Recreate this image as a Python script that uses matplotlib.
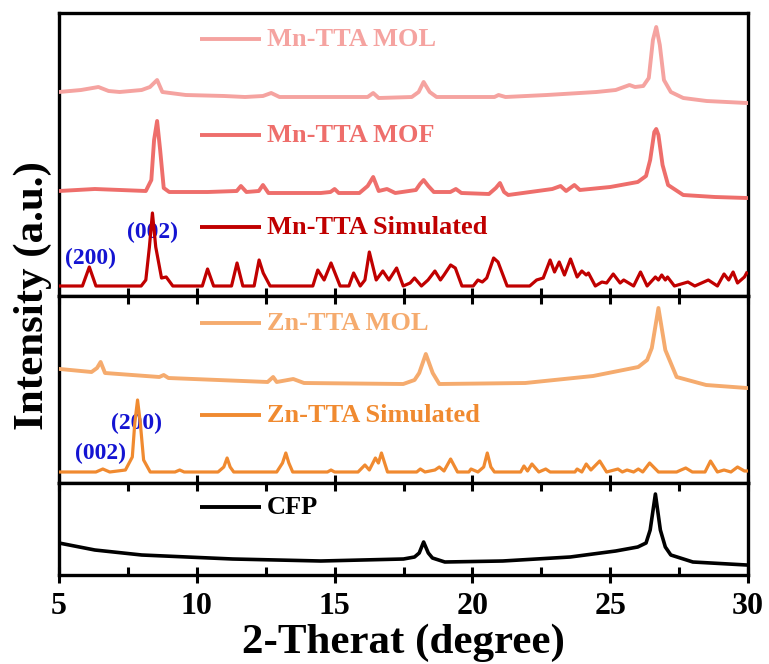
import matplotlib
matplotlib.use('Agg')
import matplotlib.pyplot as plt
from matplotlib.ticker import MultipleLocator

plt.rcParams['font.family'] = ['Liberation Serif', 'DejaVu Serif']
plt.rcParams['font.weight'] = 'bold'

# ---- data (2theta in degree, intensity in a.u.) ----
mn_mol_x = [5.0, 5.8, 6.43, 6.8, 7.2, 8.0, 8.3, 8.56, 8.75, 9.6, 11.0, 11.75, 12.4, 12.7, 13.0,
            14.5, 16.2, 16.4, 16.6, 17.8, 18.05, 18.23, 18.45, 18.7, 20.8, 20.95, 21.2, 22.7,
            24.5, 25.2, 25.6, 25.7, 25.9, 26.2, 26.4, 26.55, 26.67, 26.8, 26.95, 27.2, 27.65,
            28.5, 29.95]
mn_mol_y = [204, 206, 209, 205, 204, 206, 209, 216, 204, 201, 200, 199, 200, 203, 199,
            199, 199, 203, 198, 199, 204, 214, 204, 199, 199, 201, 199, 201,
            204, 206, 210, 211, 209, 210, 218, 256, 269, 251, 216, 204, 198,
            195, 193]

mn_mof_x = [5.0, 6.3, 8.15, 8.35, 8.45, 8.56, 8.67, 8.8, 9.0, 10.4, 11.45, 11.6, 11.8, 12.25,
            12.4, 12.6, 14.5, 14.85, 15.0, 15.15, 15.9, 16.2, 16.4, 16.6, 16.9, 17.2, 17.95,
            18.1, 18.23, 18.4, 18.6, 19.2, 19.4, 19.6, 20.6, 20.85, 21.0, 21.15, 21.3, 22.9,
            23.2, 23.4, 23.7, 23.9, 25.0, 26.0, 26.3, 26.45, 26.6, 26.67, 26.75, 26.9, 27.1,
            27.65, 28.8, 29.95]
mn_mof_y = [105, 107, 105, 116, 156, 175, 146, 108, 104, 104, 105, 110, 104, 105,
            111, 103, 103, 104, 107, 103, 103, 110, 119, 105, 107, 103, 106,
            112, 116, 110, 104, 104, 107, 103, 102, 108, 113, 104, 101, 107,
            110, 105, 111, 106, 109, 114, 120, 136, 164, 167, 161, 131, 111,
            101, 99, 98]

mn_sim_x = [5.0, 5.85, 6.10, 6.34, 7.98, 8.15, 8.28, 8.39, 8.51, 8.72, 8.89, 9.13, 10.2, 10.39,
            10.61, 11.26, 11.46, 11.67, 12.08, 12.26, 12.41, 12.66, 14.21, 14.39, 14.62, 14.87,
            15.2, 15.52, 15.69, 15.93, 16.1, 16.26, 16.51, 16.75, 16.97, 17.25, 17.49, 17.74,
            17.9, 18.15, 18.39, 18.64, 18.84, 18.97, 19.21, 19.38, 19.62, 20.03, 20.2, 20.36,
            20.52, 20.77, 20.93, 21.26, 22.08, 22.33, 22.57, 22.82, 22.98, 23.15, 23.34, 23.56,
            23.8, 23.97, 24.13, 24.21, 24.46, 24.7, 24.87, 25.11, 25.36, 25.49, 25.85, 26.1,
            26.34, 26.64, 26.75, 26.87, 27.0, 27.08, 27.33, 27.82, 28.07, 28.56, 28.89, 29.13,
            29.3, 29.46, 29.62, 29.87, 29.95]
mn_sim_y = [10, 10, 29, 10, 10, 16, 49, 83, 49, 18, 19, 10, 10, 27,
            10, 10, 33, 10, 10, 36, 23, 10, 10, 26, 16, 33,
            10, 10, 23, 10, 16, 44, 16, 25, 16, 28, 10, 13,
            18, 10, 16, 25, 16, 21, 31, 28, 10, 10, 16, 14,
            18, 38, 34, 10, 10, 16, 18, 36, 24, 34, 21, 37,
            19, 25, 21, 23, 10, 14, 13, 22, 13, 16, 10, 24,
            10, 19, 16, 21, 16, 19, 10, 14, 10, 16, 10, 22,
            16, 24, 13, 19, 23]

zn_mol_x = [5.03, 6.18, 6.38, 6.51, 6.67, 8.64, 8.8, 8.97, 12.57, 12.77, 12.9, 13.5, 13.89,
            17.49, 17.9, 18.07, 18.31, 18.56, 18.8, 21.92, 24.38, 26.02, 26.34, 26.51, 26.75,
            27.0, 27.41, 28.48, 29.95]
zn_mol_y = [114, 111, 115, 121, 110, 106, 108, 105, 101, 106, 101, 104, 100,
            99, 103, 110, 129, 110, 99, 100, 107, 116, 123, 135, 175,
            133, 106, 98, 95]

zn_sim_x = [5.0, 6.34, 6.59, 6.84, 7.41, 7.66, 7.75, 7.85, 7.95, 8.07, 8.31, 9.21, 9.38, 9.54,
            10.77, 10.98, 11.1, 11.21, 11.34, 12.9, 13.11, 13.23, 13.34, 13.48, 14.74, 14.87,
            15.0, 15.85, 16.1, 16.26, 16.48, 16.59, 16.7, 16.92, 17.98, 18.11, 18.28, 18.64,
            18.8, 18.97, 19.21, 19.46, 19.87, 19.95, 20.2, 20.41, 20.54, 20.67, 20.8, 21.75,
            21.87, 22.0, 22.16, 22.41, 22.66, 22.82, 23.72, 23.8, 23.97, 24.13, 24.3, 24.62,
            24.87, 25.28, 25.44, 25.61, 25.85, 26.02, 26.18, 26.43, 26.75, 27.41, 27.57, 27.74,
            27.98, 28.44, 28.64, 28.89, 29.13, 29.38, 29.62, 29.87, 29.95]
zn_sim_y = [11, 11, 14, 11, 13, 26, 60, 83, 60, 23, 11, 11, 13, 11,
            11, 16, 25, 16, 11, 11, 20, 30, 20, 11, 11, 13,
            11, 11, 18, 13, 25, 20, 30, 11, 11, 14, 11, 13,
            16, 12, 24, 11, 11, 14, 11, 16, 30, 16, 11, 11,
            17, 12, 19, 11, 14, 11, 11, 14, 11, 19, 13, 22,
            11, 14, 11, 13, 11, 14, 11, 20, 11, 11, 13, 15,
            11, 11, 22, 11, 13, 11, 16, 12, 12]

cfp_x = [5.0, 6.3, 8.0, 11.3, 14.5, 17.5, 17.9, 18.07, 18.23, 18.4, 18.55, 19.0, 21.1, 23.55,
         25.2, 26.0, 26.3, 26.45, 26.64, 26.82, 27.0, 27.2, 28.0, 29.95]
cfp_y = [32, 25, 20, 16, 14, 16, 18, 22, 33, 22, 17, 13, 14, 18,
         24, 28, 32, 45, 81, 45, 28, 20, 13, 10]

# labels / colours
mn_labels = ['Mn-TTA MOL', 'Mn-TTA MOF', 'Mn-TTA Simulated']
mn_colors = ['#F5A3A0', '#EE6E6B', '#C00000']
zn_labels = ['Zn-TTA MOL', 'Zn-TTA Simulated']
zn_colors = ['#F5AB6E', '#F08A30']
cfp_label = 'CFP'
cfp_color = 'black'

mn_hkl = ['(200)', '(002)']
mn_hkl_pos = [(6.13, 38), (8.39, 64)]
zn_hkl = ['(002)', '(200)']
zn_hkl_pos = [(6.5, 30), (7.82, 60)]
hkl_color = '#1414D2'

# legend rows (intensity level of each entry inside its panel)
mn_leg_y = [257, 161, 69]
zn_leg_y = [160, 68]
cfp_leg_y = [68]

x_ticks = [5, 10, 15, 20, 25, 30]


def legend_row(ax, y, label, color):
    ax.plot([10.1, 12.33], [y, y], color=color, lw=2.8, solid_capstyle='butt')
    ax.text(12.55, y, label, color=color, fontsize=19, fontweight='bold',
            va='center', ha='left')


fig, axes = plt.subplots(3, 1, figsize=(7.69, 6.64), dpi=100, sharex=True,
                         gridspec_kw={'height_ratios': [283, 187, 92], 'hspace': 0})
fig.subplots_adjust(left=59 / 769, right=748 / 769, top=1 - 13 / 664, bottom=1 - 575 / 664)
ax1, ax2, ax3 = axes

# top panel: Mn-TTA
ax1.plot(mn_mol_x, mn_mol_y, color=mn_colors[0], lw=2.8, zorder=3)
ax1.plot(mn_mof_x, mn_mof_y, color=mn_colors[1], lw=2.8, zorder=3)
ax1.plot(mn_sim_x, mn_sim_y, color=mn_colors[2], lw=2.3, zorder=3)
for lab, col, yy in zip(mn_labels, mn_colors, mn_leg_y):
    legend_row(ax1, yy, lab, col)
for lab, (xx, yy) in zip(mn_hkl, mn_hkl_pos):
    ax1.text(xx, yy, lab, color=hkl_color, fontsize=17, fontweight='bold',
             ha='center', va='center', zorder=2)
ax1.set_ylim(0, 283)

# middle panel: Zn-TTA
ax2.plot(zn_mol_x, zn_mol_y, color=zn_colors[0], lw=2.8, zorder=3)
ax2.plot(zn_sim_x, zn_sim_y, color=zn_colors[1], lw=2.3, zorder=3)
for lab, col, yy in zip(zn_labels, zn_colors, zn_leg_y):
    legend_row(ax2, yy, lab, col)
for lab, (xx, yy) in zip(zn_hkl, zn_hkl_pos):
    ax2.text(xx, yy, lab, color=hkl_color, fontsize=17, fontweight='bold',
             ha='center', va='center', zorder=2)
ax2.set_ylim(0, 187)

# bottom panel: CFP
ax3.plot(cfp_x, cfp_y, color=cfp_color, lw=2.6, zorder=3)
legend_row(ax3, cfp_leg_y[0], cfp_label, cfp_color)
ax3.set_ylim(0, 92)

for ax in axes:
    ax.set_xlim(5, 30)
    ax.set_yticks([])
    for sp in ax.spines.values():
        sp.set_linewidth(2.4)
    ax.xaxis.set_major_locator(MultipleLocator(5))
    ax.xaxis.set_minor_locator(MultipleLocator(2.5))

ax1.tick_params(axis='x', which='both', direction='in', top=False, bottom=True,
                length=6, width=2.2, labelbottom=False)
ax2.tick_params(axis='x', which='both', direction='in', top=True, bottom=False,
                length=6, width=2.2, labelbottom=False)
ax3.tick_params(axis='x', which='both', direction='in', top=True, bottom=True,
                length=6, width=2.2)
ax3.tick_params(axis='x', which='major', direction='inout', length=12, labelsize=23, pad=6)
ax3.set_xticks(x_ticks)
ax3.set_xticklabels([str(t) for t in x_ticks], fontweight='bold')

ax3.set_xlabel('2-Therat (degree)', fontsize=31, fontweight='bold', labelpad=2)
fig.text(33 / 769, 1 - 296 / 664, 'Intensity (a.u.)', rotation=90, fontsize=31,
         fontweight='bold', ha='center', va='center')

fig.savefig('out.png', dpi=100)
